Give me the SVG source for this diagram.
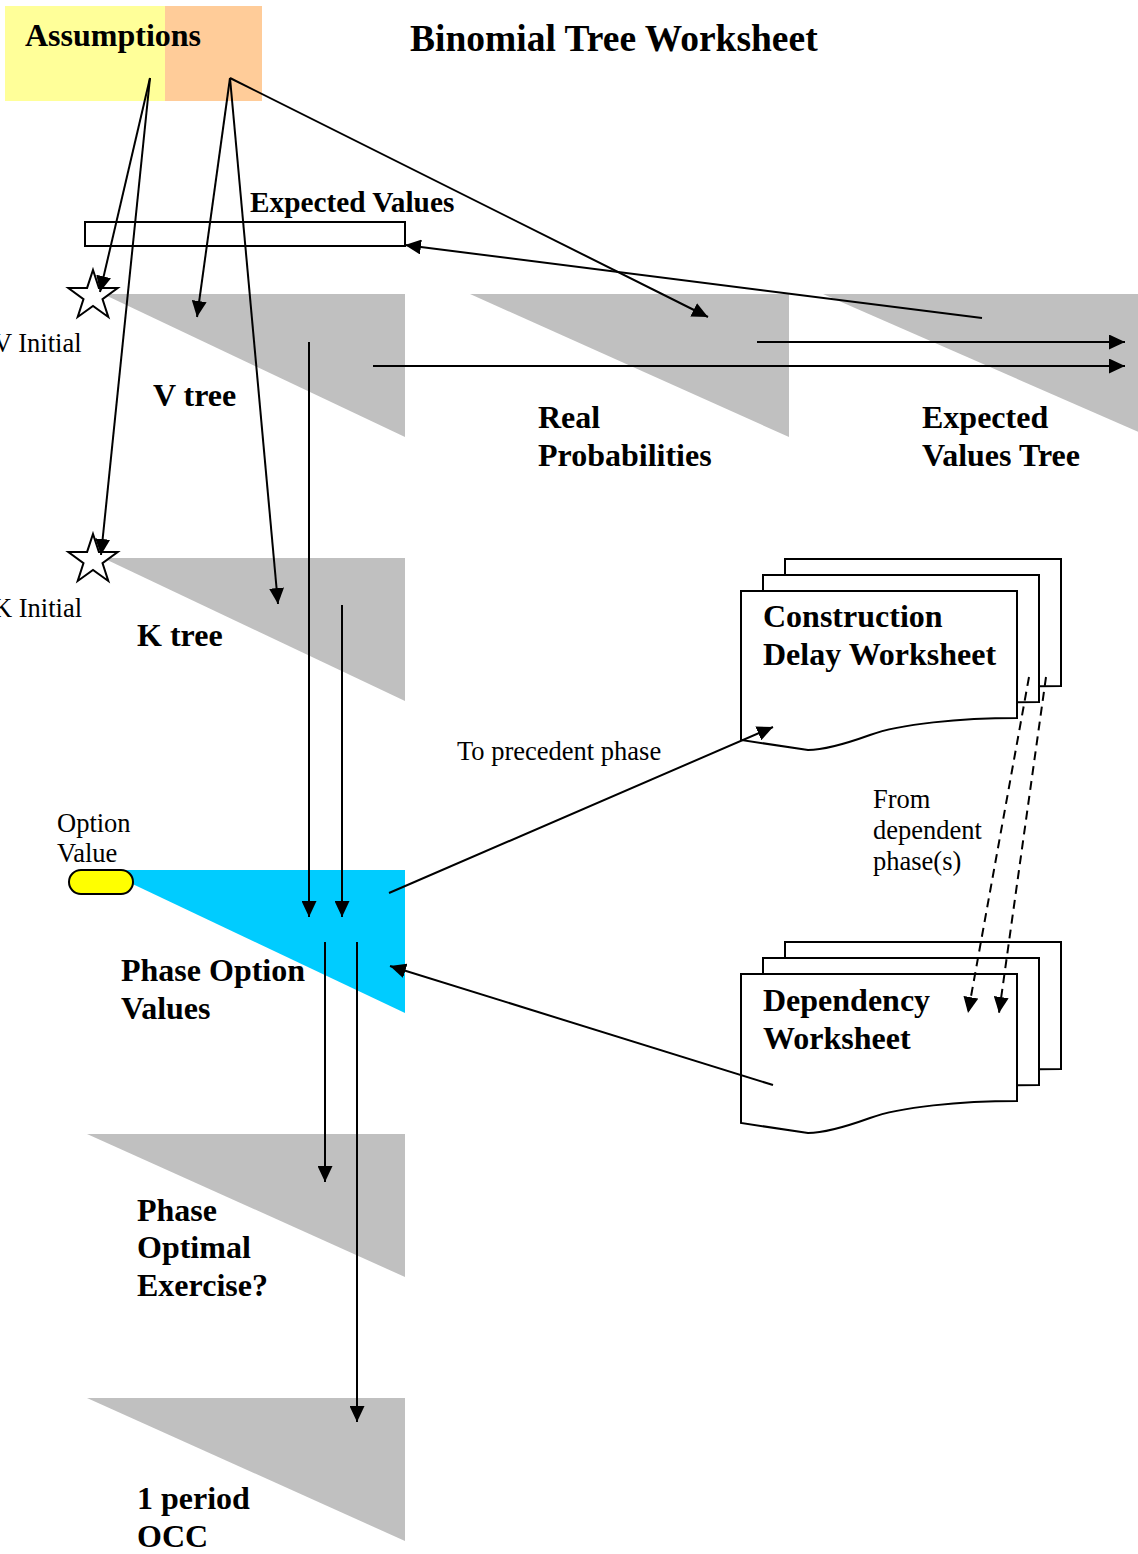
<svg xmlns="http://www.w3.org/2000/svg" width="1138" height="1554" viewBox="0 0 1138 1554">
<style>
.tri{fill:#C0C0C0;stroke:none}
.lbl{font-family:"Liberation Serif","Times New Roman",serif;font-weight:bold;font-size:32px;fill:#000}
.txt{font-family:"Liberation Serif","Times New Roman",serif;font-size:26.5px;fill:#000}
.doc{fill:#fff;stroke:#000;stroke-width:2}
.con{fill:none;stroke:#000;stroke-width:2;marker-end:url(#ah)}
.dash{fill:none;stroke:#000;stroke-width:2;stroke-dasharray:9 6;marker-end:url(#ah)}
.star{fill:#fff;stroke:#000;stroke-width:2}
</style>
<defs>
<marker id="ah" markerUnits="userSpaceOnUse" markerWidth="17" markerHeight="15" refX="16" refY="7.5" orient="auto">
<path d="M0,0 L16,7.5 L0,15 Z" fill="#000"/>
</marker>
<path id="docshape" d="M0,0 H276 V127 C219,127 159,133 129,144 C104,153 84,159 67,159 L0,149 Z"/>
<polygon id="starshape" points="0,-26 5.9,-8.1 24.7,-8 9.5,3.1 15.3,21 0,10 -15.3,21 -9.5,3.1 -24.7,-8 -5.9,-8.1"/>
</defs>
<rect width="1138" height="1554" fill="#fff"/>

<g id="assumptions">
<rect x="5" y="6" width="160" height="95" fill="#FFFF99"/>
<rect x="165" y="6" width="97" height="95" fill="#FFCC99"/>
<text class="lbl" x="25" y="46" style="font-size:32px">Assumptions</text>
</g>

<g id="title">
<text class="lbl" x="410" y="51" style="font-size:37.5px">Binomial Tree Worksheet</text>
</g>

<g id="expected-values">
<rect x="85" y="222" width="320" height="24" fill="#fff" stroke="#000" stroke-width="2"/>
<text class="lbl" x="250" y="212" style="font-size:29.3px">Expected Values</text>
</g>

<g id="v-tree">
<polygon class="tri" points="103,294 405,294 405,437"/>
<text class="lbl" x="153" y="406">V tree</text>
</g>

<g id="real-probabilities">
<polygon class="tri" points="470,294 789,294 789,437"/>
<text class="lbl" x="538" y="428">Real</text>
<text class="lbl" x="538" y="466">Probabilities</text>
</g>

<g id="expected-values-tree">
<polygon class="tri" points="823,294 1150,294 1150,437"/>
<text class="lbl" x="922" y="428">Expected</text>
<text class="lbl" x="922" y="466">Values Tree</text>
</g>

<g id="v-initial">
<use href="#starshape" class="star" transform="translate(93,296)"/>
<text class="txt" x="-7" y="352">V Initial</text>
</g>

<g id="k-tree">
<polygon class="tri" points="103,558 405,558 405,701"/>
<text class="lbl" x="137" y="646">K tree</text>
</g>

<g id="k-initial">
<use href="#starshape" class="star" transform="translate(93,560)"/>
<text class="txt" x="-7" y="617">K Initial</text>
</g>

<g id="phase-option-values">
<polygon points="103,870 405,870 405,1013" fill="#00CCFF"/>
<text class="lbl" x="121" y="981">Phase Option</text>
<text class="lbl" x="121" y="1019">Values</text>
</g>

<g id="option-value">
<rect x="69" y="870" width="64" height="24" rx="12" ry="12" fill="#FFFF00" stroke="#000" stroke-width="2"/>
<text class="txt" x="57" y="832">Option</text>
<text class="txt" x="57" y="862">Value</text>
</g>

<g id="phase-optimal-exercise">
<polygon class="tri" points="87,1134 405,1134 405,1277"/>
<text class="lbl" x="137" y="1221">Phase</text>
<text class="lbl" x="137" y="1258">Optimal</text>
<text class="lbl" x="137" y="1296">Exercise?</text>
</g>

<g id="one-period-occ">
<polygon class="tri" points="87,1398 405,1398 405,1541"/>
<text class="lbl" x="137" y="1509">1 period</text>
<text class="lbl" x="137" y="1547">OCC</text>
</g>

<g id="construction-delay-worksheet">
<use href="#docshape" class="doc" transform="translate(785,559)"/>
<use href="#docshape" class="doc" transform="translate(763,575)"/>
<use href="#docshape" class="doc" transform="translate(741,591)"/>
<text class="lbl" x="763" y="627">Construction</text>
<text class="lbl" x="763" y="665">Delay Worksheet</text>
</g>

<g id="dependency-worksheet">
<use href="#docshape" class="doc" transform="translate(785,942)"/>
<use href="#docshape" class="doc" transform="translate(763,958)"/>
<use href="#docshape" class="doc" transform="translate(741,974)"/>
<text class="lbl" x="763" y="1011">Dependency</text>
<text class="lbl" x="763" y="1049">Worksheet</text>
</g>

<g id="connectors">
<line class="con" x1="150" y1="78" x2="100" y2="292"/>
<line class="con" x1="150" y1="78" x2="101" y2="555"/>
<line class="con" x1="230" y1="78" x2="197" y2="317"/>
<line class="con" x1="230" y1="78" x2="278" y2="604"/>
<line class="con" x1="230" y1="78" x2="708" y2="317"/>
<line class="con" x1="982" y1="318" x2="405" y2="245"/>
<line class="con" x1="757" y1="342" x2="1125" y2="342"/>
<line class="con" x1="373" y1="366" x2="1125" y2="366"/>
<line class="con" x1="309" y1="342" x2="309" y2="917"/>
<line class="con" x1="342" y1="605" x2="342" y2="917"/>
<line class="con" x1="325" y1="942" x2="325" y2="1182"/>
<line class="con" x1="357" y1="942" x2="357" y2="1422"/>
<line class="con" x1="389" y1="893" x2="773" y2="727"/>
<line class="con" x1="773" y1="1085" x2="390" y2="966"/>
<line class="dash" x1="1029" y1="677" x2="968" y2="1013"/>
<line class="dash" x1="1046" y1="677" x2="999" y2="1013"/>
<text class="txt" x="457" y="760">To precedent phase</text>
<text class="txt" x="873" y="808">From</text>
<text class="txt" x="873" y="839">dependent</text>
<text class="txt" x="873" y="870">phase(s)</text>
</g>
</svg>
